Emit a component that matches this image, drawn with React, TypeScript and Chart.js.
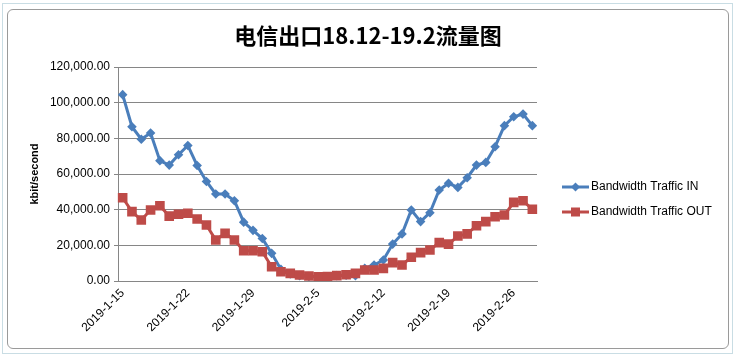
import React, { useEffect, useRef } from "react";
import { Chart, registerables } from "chart.js";

Chart.register(...registerables);

const TITLE = "电信出口18.12-19.2流量图";
const Y_TITLE = "kbit/second";
const SERIES_IN_NAME = "Bandwidth Traffic IN";
const SERIES_OUT_NAME = "Bandwidth Traffic OUT";

const dates: string[] = [
  "2019-1-15", "2019-1-16", "2019-1-17", "2019-1-18", "2019-1-19", "2019-1-20", "2019-1-21",
  "2019-1-22", "2019-1-23", "2019-1-24", "2019-1-25", "2019-1-26", "2019-1-27", "2019-1-28",
  "2019-1-29", "2019-1-30", "2019-1-31", "2019-2-1", "2019-2-2", "2019-2-3", "2019-2-4",
  "2019-2-5", "2019-2-6", "2019-2-7", "2019-2-8", "2019-2-9", "2019-2-10", "2019-2-11",
  "2019-2-12", "2019-2-13", "2019-2-14", "2019-2-15", "2019-2-16", "2019-2-17", "2019-2-18",
  "2019-2-19", "2019-2-20", "2019-2-21", "2019-2-22", "2019-2-23", "2019-2-24", "2019-2-25",
  "2019-2-26", "2019-2-27", "2019-2-28",
];

const trafficIn: number[] = [
  104500, 86500, 79500, 83000, 67500, 65000, 70800, 76000, 64800, 55800, 48800, 48800,
  45000, 33000, 28400, 23800, 15500, 6500, 4000, 3000, 2500, 2200, 2000, 3000, 3200,
  3000, 7100, 9000, 11800, 20700, 26400, 39800, 33300, 38300, 51000, 54800, 52500,
  57900, 65000, 66500, 75300, 87100, 92100, 93600, 87100,
];

const trafficOut: number[] = [
  46700, 38900, 34200, 39800, 42200, 36400, 37400, 38000, 34800, 31400, 23000, 26700,
  23000, 17000, 17000, 16400, 8000, 5200, 4300, 3400, 2800, 2400, 2500, 3000, 3500,
  4300, 6200, 6200, 7100, 10300, 9000, 13300, 15900, 17400, 21500, 20700, 25200,
  26400, 31000, 33300, 36000, 37000, 44100, 45000, 40200,
];

const Y_MAX = 120000;
const Y_STEP = 20000;
const LABEL_EVERY = 7;

const BLUE = "#4a7ebb";
const RED = "#be4b48";

export default function App() {
  const ref = useRef<HTMLCanvasElement | null>(null);

  useEffect(() => {
    document.body.style.margin = "0";
    const canvas = ref.current;
    if (!canvas) return;

    const overlay = {
      id: "overlay",
      afterDraw(chart: any) {
        const ctx = chart.ctx;
        ctx.save();
        ctx.fillStyle = "#000";
        ctx.font = "bold 22px 'Noto Sans CJK SC'";
        ctx.textAlign = "center";
        ctx.textBaseline = "middle";
        ctx.fillText(TITLE, 368, 36);
        const items = [
          { name: SERIES_IN_NAME, color: BLUE, diamond: true, r: 4.5, y: 187 },
          { name: SERIES_OUT_NAME, color: RED, diamond: false, r: 4.5, y: 212 },
        ];
        ctx.font = "12px 'Liberation Sans'";
        ctx.textAlign = "left";
        for (const it of items) {
          ctx.strokeStyle = it.color;
          ctx.lineWidth = 3;
          ctx.beginPath();
          ctx.moveTo(562, it.y);
          ctx.lineTo(589, it.y);
          ctx.stroke();
          ctx.fillStyle = it.color;
          const cx = 575.5;
          if (it.diamond) {
            ctx.beginPath();
            ctx.moveTo(cx, it.y - it.r);
            ctx.lineTo(cx + it.r, it.y);
            ctx.lineTo(cx, it.y + it.r);
            ctx.lineTo(cx - it.r, it.y);
            ctx.closePath();
            ctx.fill();
          } else {
            ctx.fillRect(cx - it.r, it.y - it.r, 2 * it.r, 2 * it.r);
          }
          ctx.fillStyle = "#000";
          ctx.fillText(it.name, 591, it.y);
        }
        ctx.restore();
      },
    };

    const chart = new Chart(canvas, {
      type: "line",
      data: {
        labels: dates,
        datasets: [
          {
            label: SERIES_IN_NAME,
            data: trafficIn,
            borderColor: BLUE,
            backgroundColor: BLUE,
            borderWidth: 3,
            pointStyle: "rectRot",
            pointRadius: 4.8,
            pointBorderWidth: 0,
            tension: 0,
            order: 1,
          },
          {
            label: SERIES_OUT_NAME,
            data: trafficOut,
            borderColor: RED,
            backgroundColor: RED,
            borderWidth: 3,
            pointStyle: "rect",
            pointRadius: 6.8,
            pointBorderWidth: 0,
            tension: 0,
            order: 0,
          },
        ],
      },
      options: {
        animation: false,
        responsive: false,
        maintainAspectRatio: false,
        layout: { padding: { left: 28, top: 67, right: 199, bottom: 0 } },
        plugins: {
          legend: { display: false },
          tooltip: { enabled: false },
          title: { display: false },
        },
        scales: {
          x: {
            offset: true,
            afterFit: (s: any) => { s.height = 76; },
            grid: { display: false, drawTicks: false },
            border: { display: true, color: "#868686", width: 1 },
            ticks: {
              autoSkip: false,
              maxRotation: 45,
              minRotation: 45,
              padding: 5,
              color: "#000",
              font: { family: "'Liberation Sans'", size: 12 },
              callback: (_v: any, i: number) => (i % LABEL_EVERY === 0 ? dates[i] : ""),
            },
          },
          y: {
            min: 0,
            max: Y_MAX,
            afterFit: (s: any) => { s.width = 90; },
            grid: { color: "#868686", lineWidth: 1, tickLength: 4, tickColor: "#868686" },
            border: { display: true, color: "#868686", width: 1 },
            ticks: {
              stepSize: Y_STEP,
              padding: 4,
              color: "#000",
              font: { family: "'Liberation Sans'", size: 12 },
              callback: (v: any) =>
                Number(v).toLocaleString("en-US", { minimumFractionDigits: 2, maximumFractionDigits: 2 }),
            },
            title: {
              display: true,
              text: Y_TITLE,
              color: "#000",
              font: { family: "'Liberation Sans'", size: 11, weight: "bold" },
              padding: { top: 0, bottom: 0 },
            },
          },
        },
      },
      plugins: [overlay],
    });
    return () => chart.destroy();
  }, []);

  return (
    <div style={{ position: "relative", width: 736, height: 357, background: "#fff", overflow: "hidden" }}>
      <div style={{ position: "absolute", left: 2, top: 3, width: 731, height: 351, border: "1px solid #c9dde4", boxSizing: "border-box" }} />
      <div style={{ position: "absolute", left: 7, top: 9, width: 722, height: 340, border: "1px solid #9a9a9a", borderRadius: 6, boxSizing: "border-box", background: "#fff" }} />
      <canvas ref={ref} width={736} height={357} style={{ position: "absolute", left: 0, top: 0, width: 736, height: 357 }} />
    </div>
  );
}
